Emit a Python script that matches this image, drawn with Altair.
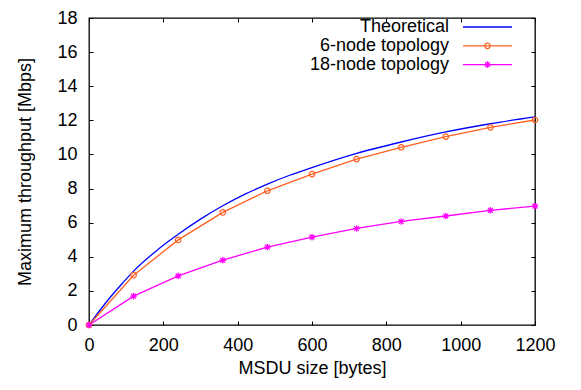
import altair as alt
import pandas as pd

# ---- data ----
theo_x = [0, 30, 60, 90, 120, 180, 240, 300, 360, 420, 480, 540, 600, 720, 840, 960, 1080, 1200]
theo_y = [0, 0.88, 1.70, 2.45, 3.16, 4.33, 5.32, 6.21, 6.99, 7.67, 8.26, 8.78, 9.23, 10.06, 10.73, 11.32, 11.80, 12.2]

msdu = [0, 120, 240, 360, 480, 600, 720, 840, 960, 1080, 1200]
six_node = [0, 2.92, 4.99, 6.60, 7.87, 8.85, 9.73, 10.42, 11.05, 11.59, 12.02]
eighteen_node = [0, 1.69, 2.88, 3.80, 4.57, 5.15, 5.66, 6.07, 6.39, 6.72, 6.97]

series_names = ["Theoretical", "6-node topology", "18-node topology"]
series_colors = ["#0000ff", "#ff6020", "#ff00ff"]

x_ticks = [0, 200, 400, 600, 800, 1000, 1200]
y_ticks = [0, 2, 4, 6, 8, 10, 12, 14, 16, 18]

W, H = 446, 307
FONT = "Liberation Sans"
FS = 18
STAR = "M-1,0H1M0,-1V1M-0.72,-0.72L0.72,0.72M-0.72,0.72L0.72,-0.72"

df_theo = pd.DataFrame({"x": theo_x, "y": theo_y})
df_six = pd.DataFrame({"x": msdu, "y": six_node})
df_eight = pd.DataFrame({"x": msdu, "y": eighteen_node})

xs = alt.Scale(domain=[0, 1200], nice=False, zero=False)
ys = alt.Scale(domain=[0, 18], nice=False, zero=False)

# main axes with labels (no ticks)
ax_bottom = alt.Axis(orient="bottom", values=x_ticks, format="d", ticks=False, tickSize=0, domain=False,
                     grid=False, labelFlush=False, labelPadding=11,
                     title="MSDU size [bytes]", titlePadding=5)
ax_left = alt.Axis(orient="left", values=y_ticks, format="d", ticks=False, tickSize=0, domain=False,
                   grid=False, labelFlush=False, labelPadding=12,
                   title="Maximum throughput [Mbps]", titlePadding=22)
# inward ticks at bottom / left
ax_in_bottom = alt.Axis(orient="top", offset=-H, values=x_ticks, labels=False, domain=False, grid=False,
                        tickSize=4, title=None)
ax_in_left = alt.Axis(orient="right", offset=-W, values=y_ticks, labels=False, domain=False, grid=False,
                      tickSize=4, title=None)
# inward ticks at top / right (mirror)
ax_in_top = alt.Axis(orient="bottom", offset=-H, values=x_ticks, labels=False, domain=False, grid=False,
                     tickSize=4, title=None)
ax_in_right = alt.Axis(orient="left", offset=-W, values=y_ticks, labels=False, domain=False, grid=False,
                       tickSize=4, title=None)

theo_line = alt.Chart(df_theo).mark_line(color=series_colors[0], strokeWidth=1.3, interpolate="monotone").encode(
    x=alt.X("x:Q", scale=xs, axis=ax_bottom),
    y=alt.Y("y:Q", scale=ys, axis=ax_left),
)
six_line = alt.Chart(df_six).mark_line(color=series_colors[1], strokeWidth=1.3).encode(
    x=alt.X("x:Q", scale=xs, axis=ax_in_bottom),
    y=alt.Y("y:Q", scale=ys, axis=ax_in_left),
)
eight_line = alt.Chart(df_eight).mark_line(color=series_colors[2], strokeWidth=1.3).encode(
    x=alt.X("x:Q", scale=xs, axis=ax_in_top),
    y=alt.Y("y:Q", scale=ys, axis=ax_in_right),
)
six_pts = alt.Chart(df_six).mark_point(shape="circle", filled=False, size=30, strokeWidth=1.2,
                                       color=series_colors[1], opacity=1).encode(
    x=alt.X("x:Q", scale=xs, axis=None),
    y=alt.Y("y:Q", scale=ys, axis=None),
)
eight_pts = alt.Chart(df_eight).mark_point(shape=STAR, filled=False, size=44, strokeWidth=1.2,
                                           color=series_colors[2], opacity=1).encode(
    x=alt.X("x:Q", scale=xs, axis=None),
    y=alt.Y("y:Q", scale=ys, axis=None),
)

# ---- manual gnuplot-style legend (text, then sample) ----
legend_layers = []
row_y = [9, 27.8, 46.6]
for i, name in enumerate(series_names):
    d = pd.DataFrame({"label": [name]})
    legend_layers.append(
        alt.Chart(d).mark_text(align="right", baseline="middle", font=FONT, fontSize=FS, color="black").encode(
            x=alt.value(360), y=alt.value(row_y[i]), text="label:N")
    )
    legend_layers.append(
        alt.Chart(d).mark_rule(color=series_colors[i], strokeWidth=1.3).encode(
            x=alt.value(374), x2=alt.value(423), y=alt.value(row_y[i]))
    )
legend_layers.append(
    alt.Chart(pd.DataFrame({"label": [series_names[1]]})).mark_point(
        shape="circle", filled=False, size=30, strokeWidth=1.2, color=series_colors[1], opacity=1).encode(
        x=alt.value(398.5), y=alt.value(row_y[1]))
)
legend_layers.append(
    alt.Chart(pd.DataFrame({"label": [series_names[2]]})).mark_point(
        shape=STAR, filled=False, size=44, strokeWidth=1.2, color=series_colors[2], opacity=1).encode(
        x=alt.value(398.5), y=alt.value(row_y[2]))
)

chart = alt.layer(
    theo_line, six_line, eight_line, six_pts, eight_pts, *legend_layers
).resolve_axis(
    x="independent", y="independent"
).properties(
    width=W, height=H,
    autosize=alt.AutoSizeParams(type="none"),
    padding={"left": 81, "top": 10, "right": 30, "bottom": 57},
    background="white",
).configure_view(
    stroke="black", strokeWidth=1.3
).configure_axis(
    labelFont=FONT, labelFontSize=FS, labelColor="black",
    titleFont=FONT, titleFontSize=FS, titleColor="black", titleFontWeight="normal",
    tickColor="black", tickWidth=1,
)

chart.save("out.html", embed_options={"renderer": "svg", "actions": False})
